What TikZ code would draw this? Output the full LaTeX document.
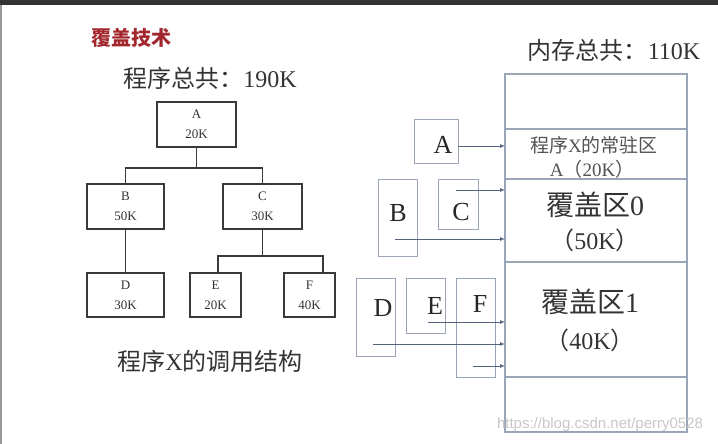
\documentclass[tikz,border=0pt]{standalone}
\usepackage{fontspec}
\setmainfont{Liberation Serif}
\newfontfamily\cjk{Noto Sans CJK SC}
\usepackage{tikz}
\usetikzlibrary{
  calc,%
  arrows,
  positioning
}
\definecolor{treeline}{HTML}{3A3A3A}
\definecolor{memline}{HTML}{9AA6B8}
\definecolor{loadline}{HTML}{55627E}
\definecolor{titlered}{HTML}{A3282E}
\definecolor{textgrey}{HTML}{333333}
\tikzset{>=latex}
\tikzset{
  tree box/.style={draw=treeline, line width=1.3pt, minimum height=45pt,
    inner sep=0pt, outer sep=0pt, align=center, text=textgrey,
    font=\fontsize{13}{20}\selectfont},
  seg box/.style={draw=memline, line width=1pt, inner sep=0pt, outer sep=0pt},
  mem part/.style={draw=memline, line width=1.2pt, minimum width=182pt,
    inner sep=0pt, outer sep=0pt},
  seg letter/.style={font=\fontsize{26}{26}\selectfont, text=black!85},
  big text/.style={font=\fontsize{24}{24}\selectfont, text=textgrey},
  load/.style={->, draw=loadline, line width=0.7pt}
}

\begin{document}
\begin{tikzpicture}[x=1pt, y=-1pt]
  \useasboundingbox (0,0) rectangle (718,444);
  % frame of the slide
  \fill[black!80] (0,0) rectangle (718,5);
  \fill[black!40] (0,5) rectangle (2,444);

  % titles
  \node[font=\fontsize{20}{20}\selectfont\cjk\bfseries, text=titlered] (title) at (131,38) {覆盖技术};
  \node[big text] (progsum) at (210,78) {{\cjk 程序总共：}190K};
  \node[big text] (memsum) at (614,50) {{\cjk 内存总共：}110K};
  \node[big text] (callcap) at (210,361) {{\cjk 程序}X{\cjk 的调用结构}};

  % call structure of program X
  \node[tree box, minimum width=79pt] (tA) at (196.5,124.5) {A\\20K};
  \node[tree box, minimum width=77pt] (tB) at (125.5,206.5) {B\\50K};
  \node[tree box, minimum width=79pt] (tC) at (262.5,206.5) {C\\30K};
  \node[tree box, minimum width=77pt, minimum height=44pt] (tD) at (125.5,295) {D\\30K};
  \node[tree box, minimum width=51pt, minimum height=44pt] (tE) at (215.5,295) {E\\20K};
  \node[tree box, minimum width=51pt, minimum height=44pt] (tF) at (309.5,295) {F\\40K};
  \coordinate (jA) at (196.5,168);
  \coordinate (jC) at (262.5,256);
  \draw[treeline, line width=1.3pt] (tA.south) -- (jA);
  \draw[treeline, line width=1.3pt] (tB.north) |- (jA) -| (tC.north);
  \draw[treeline, line width=1.3pt] (tB.south) -- (tD.north);
  \draw[treeline, line width=1.3pt] (tC.south) -- (jC);
  \draw[treeline, line width=1.3pt] ([xshift=2.5pt]tE.north) |- (jC) -| ([xshift=13.5pt]tF.north);

  % memory
  \node[mem part, minimum height=55pt] (memFree) at (596,101.5) {};
  \node[mem part, minimum height=50pt] (memRes) at (596,154) {};
  \node[mem part, minimum height=83pt] (memOv0) at (596,220.5) {};
  \node[mem part, minimum height=115pt] (memOv1) at (596,319.5) {};
  \node[mem part, minimum height=55pt] (memRest) at (596,404.5) {};
  \node[font=\fontsize{19}{19}\selectfont, text=textgrey!85] (resA) at (594,145) {{\cjk 程序}X{\cjk 的常驻区}};
  \node[font=\fontsize{19}{19}\selectfont, text=textgrey!85] (resB) at (592,169) {A{\cjk （}20K{\cjk ）}};
  \node[font=\fontsize{28}{28}\selectfont, text=textgrey] (ov0a) at (595,205) {{\cjk 覆盖区}0};
  \node[big text] (ov0b) at (595,240) {{\cjk （}50K{\cjk ）}};
  \node[font=\fontsize{28}{28}\selectfont, text=textgrey] (ov1a) at (590,302) {{\cjk 覆盖区}1};
  \node[big text] (ov1b) at (590,340) {{\cjk （}40K{\cjk ）}};

  % segments loaded into memory
  \node[seg box, minimum width=44pt, minimum height=44pt] (sA) at (436,141) {};
  \node[seg box, minimum width=39pt, minimum height=77pt] (sB) at (397.5,217.5) {};
  \node[seg box, minimum width=40pt, minimum height=50pt] (sC) at (458,204) {};
  \node[seg box, minimum width=39pt, minimum height=78pt] (sD) at (375.5,317) {};
  \node[seg box, minimum width=39pt, minimum height=55pt] (sE) at (425.5,305.5) {};
  \node[seg box, minimum width=39pt, minimum height=99pt] (sF) at (475.5,327.5) {};
  \node[seg letter] (lA) at (443,145) {A};
  \node[seg letter] (lB) at (398,213) {B};
  \node[seg letter] (lC) at (461,212) {C};
  \node[seg letter] (lD) at (383,308) {D};
  \node[seg letter] (lE) at (435,306) {E};
  \node[seg letter] (lF) at (480,304) {F};

  \coordinate (inA) at (458,146);
  \coordinate (inC) at (456,190);
  \coordinate (inB) at (395,239);
  \coordinate (inE) at (428,322);
  \coordinate (inD) at (373,344);
  \coordinate (inF) at (473,366);
  \draw[load] (inA) -- (memRes.west |- inA);
  \draw[load] (inC) -- (memOv0.west |- inC);
  \draw[load] (inB) -- (memOv0.west |- inB);
  \draw[load] (inE) -- (memOv1.west |- inE);
  \draw[load] (inD) -- (memOv1.west |- inD);
  \draw[load] (inF) -- (memOv1.west |- inF);

  % watermark
  \node[font=\fontspec{Liberation Sans}\fontsize{15}{15}\selectfont, text=black!22] (mark) at (600,425) {https://blog.csdn.net/perry0528};
\end{tikzpicture}
\end{document}
